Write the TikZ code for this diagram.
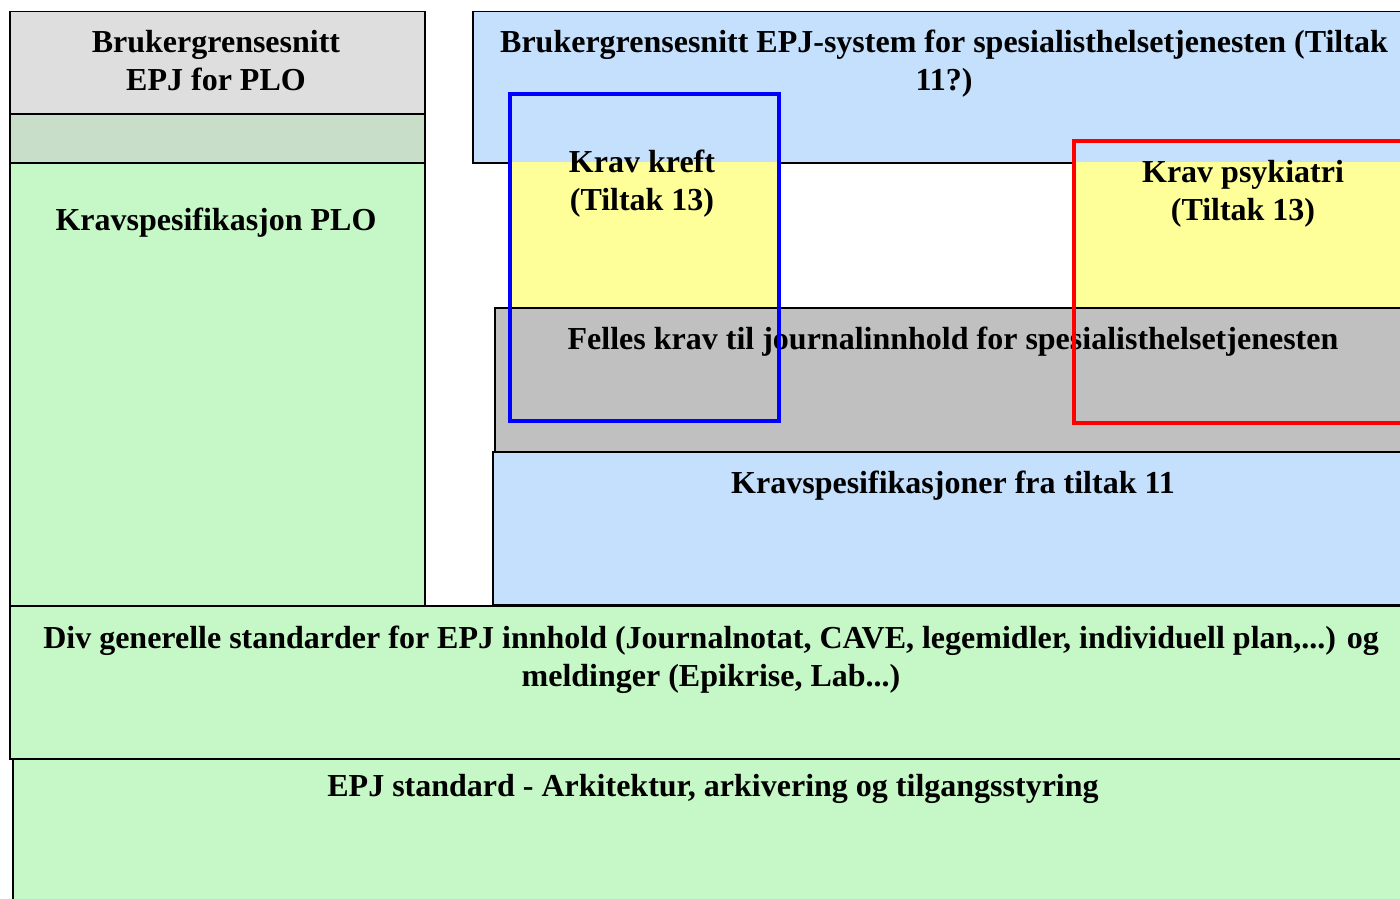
\documentclass[tikz,border=0pt]{standalone}
\usepackage{fontspec}
\setmainfont{Liberation Serif}
\usetikzlibrary{positioning}
\definecolor{plogreen}{HTML}{C6F7C6}
\definecolor{gingham}{HTML}{C4E0FC}
\definecolor{uigray}{HTML}{DEDEDE}
\definecolor{bandgray}{HTML}{C9DEC9}
\definecolor{kravyellow}{HTML}{FFFF99}
\definecolor{fellesgray}{HTML}{C0C0C0}

\begin{document}
\begin{tikzpicture}[x=1pt,y=-1pt]
    \tikzset{box/.style={draw,line width=1.5pt,rectangle,inner sep=0pt,anchor=north west},
      plain/.style={rectangle,inner sep=0pt,anchor=north west},
      lbl/.style={font=\fontsize{32}{38}\selectfont\bfseries,align=center,anchor=base,inner sep=0pt},
      frame/.style={rectangle,inner sep=0pt,anchor=north west,line width=3.5pt}}
    \useasboundingbox (0,0) rectangle (1400,899);
    \clip (0,0) rectangle (1400,899);
    % bottom layers
    \node[box,fill=plogreen,minimum width=1411pt,minimum height=153pt] (div) at (9,605) {};
    \node[box,fill=plogreen,minimum width=1408pt,minimum height=150pt] (std) at (12,758) {};
    % PLO column
    \node[box,fill=uigray,minimum width=415pt,minimum height=102pt] (ploui) at (9,11) {};
    \node[box,fill=bandgray,minimum width=415pt,minimum height=49pt] (ploband) at (9,113) {};
    \node[box,fill=plogreen,minimum width=415pt,minimum height=443pt] (plospec) at (9,162) {};
    % spesialisthelsetjenesten
    \node[box,fill=gingham,minimum width=948pt,minimum height=151pt] (shui) at (472,11) {};
    \node[plain,fill=kravyellow,minimum width=269pt,minimum height=145pt] (kreft) at (508,162) {};
    \node[plain,fill=kravyellow,minimum width=348pt,minimum height=145pt] (psyk) at (1072,162) {};
    \node[box,fill=fellesgray,minimum width=926pt,minimum height=144pt] (felles) at (494,307) {};
    \node[box,fill=gingham,minimum width=928pt,minimum height=153pt] (t11) at (492,451) {};
    % texts (base = last line)
    \node[lbl] (plouiT) at (216,91) {Brukergrensesnitt\\EPJ for PLO};
    \node[lbl] (plospecT) at (216,230) {Kravspesifikasjon PLO};
    \node[lbl] (shuiT) at (944,90) {Brukergrensesnitt EPJ-system for spesialisthelsetjenesten (Tiltak\\11?)};
    \node[lbl] (kreftT) at (642,210) {Krav kreft\\(Tiltak 13)};
    \node[lbl] (psykT) at (1243,220) {Krav psykiatri\\(Tiltak 13)};
    \node[lbl] (fellesT) at (953,349) {Felles krav til journalinnhold for spesialisthelsetjenesten};
    \node[lbl] (t11T) at (953,493) {Kravspesifikasjoner fra tiltak 11};
    \node[lbl] (divT) at (711,686) {Div generelle standarder for EPJ innhold (Journalnotat, CAVE, legemidler, individuell plan,...) og\\meldinger (Epikrise, Lab...)};
    \node[lbl] (stdT) at (713,796) {EPJ standard - Arkitektur, arkivering og tilgangsstyring};
    % frames on top
    \node[frame,draw=blue,minimum width=269pt,minimum height=327pt] (kreftF) at (508,92) {};
    \node[frame,draw=red,minimum width=343pt,minimum height=282pt] (psykF) at (1072,139) {};
\end{tikzpicture}
\end{document}
